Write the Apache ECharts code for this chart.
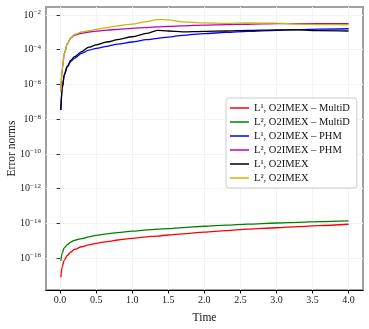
<!DOCTYPE html>
<html>
<head>
<meta charset="utf-8">
<script src="https://cdn.jsdelivr.net/npm/echarts@6/dist/echarts.min.js"></script>
<style>
  html, body { margin: 0; padding: 0; background: #fff; }
  #chart { width: 369px; height: 329px; }
</style>
</head>
<body>
<div id="chart"></div>
<script>
// sample times
var times = [0.01, 0.03, 0.06, 0.1, 0.15, 0.2, 0.3, 0.4, 0.5, 0.65, 0.8, 1.0,
             1.2, 1.35, 1.5, 1.7, 2.0, 2.3, 2.6, 3.0, 3.3, 3.6, 4.0];

var l1MultiD = [7.8e-18, 3.2e-17, 7.9e-17, 1.41e-16, 2.24e-16, 3.16e-16, 4.5e-16, 5.75e-16,
                7.1e-16, 8.9e-16, 1.1e-15, 1.35e-15, 1.66e-15, 1.86e-15, 2.14e-15, 2.5e-15,
                3.16e-15, 3.8e-15, 4.6e-15, 5.6e-15, 6.5e-15, 7.4e-15, 8.9e-15];
var l2MultiD = [6.9e-17, 2.0e-16, 4.0e-16, 6.0e-16, 8.5e-16, 1.05e-15, 1.32e-15, 1.66e-15,
                2.04e-15, 2.5e-15, 2.95e-15, 3.55e-15, 4.2e-15, 4.6e-15, 5.0e-15, 5.75e-15,
                6.8e-15, 7.9e-15, 9.1e-15, 1.05e-14, 1.15e-14, 1.26e-14, 1.38e-14];
var l1Phm = [3.4e-8, 6.3e-7, 3.5e-6, 1.0e-5, 2.1e-5, 3.2e-5, 6.3e-5, 9.5e-5,
             1.2e-4, 1.58e-4, 2.1e-4, 2.8e-4, 3.8e-4, 4.5e-4, 5.4e-4, 6.8e-4,
             8.5e-4, 1.0e-3, 1.15e-3, 1.32e-3, 1.45e-3, 1.55e-3, 1.62e-3];
var l2Phm = [3.7e-7, 7.9e-6, 6.3e-5, 2.2e-4, 4.8e-4, 6.9e-4, 8.9e-4, 1.05e-3,
             1.17e-3, 1.35e-3, 1.5e-3, 1.7e-3, 1.9e-3, 2.1e-3, 2.24e-3, 2.4e-3,
             2.63e-3, 2.8e-3, 2.95e-3, 3.16e-3, 3.16e-3, 3.16e-3, 3.16e-3];
var l1O2 = [3.4e-8, 6.3e-7, 4.0e-6, 1.12e-5, 2.5e-5, 4.0e-5, 7.9e-5, 1.41e-4,
            1.9e-4, 2.8e-4, 3.8e-4, 5.6e-4, 8.7e-4, 1.32e-3, 1.2e-3, 1.07e-3,
            1.15e-3, 1.2e-3, 1.32e-3, 1.41e-3, 1.38e-3, 1.26e-3, 1.2e-3];
var l2O2 = [3.7e-7, 7.9e-6, 6.3e-5, 2.2e-4, 5.0e-4, 7.6e-4, 1.05e-3, 1.26e-3,
            1.48e-3, 1.9e-3, 2.4e-3, 3.0e-3, 4.2e-3, 5.5e-3, 5.25e-3, 4.0e-3,
            3.5e-3, 3.3e-3, 3.5e-3, 3.4e-3, 3.0e-3, 2.8e-3, 2.75e-3];

var xTicks = [0, 0.5, 1.0, 1.5, 2.0, 2.5, 3.0, 3.5, 4.0];
var yTicks = [1e-16, 1e-14, 1e-12, 1e-10, 1e-8, 1e-6, 1e-4, 1e-2];

var names = ['L¹, O2IMEX – MultiD', 'L², O2IMEX – MultiD', 'L¹, O2IMEX – PHM',
             'L², O2IMEX – PHM', 'L¹, O2IMEX', 'L², O2IMEX'];
var colors = ['#ff0000', '#008000', '#0000ff', '#bf00bf', '#000000', '#bfbf00'];
var values = [l1MultiD, l2MultiD, l1Phm, l2Phm, l1O2, l2O2];

var font = '"Liberation Serif", "DejaVu Serif", serif';

function pairs(ys) {
    return times.map(function (t, i) { return [t, ys[i]]; });
}

var series = names.map(function (n, i) {
    return {
        name: n,
        type: 'line',
        data: pairs(values[i]),
        symbol: 'none',
        smooth: 0.3,
        smoothMonotone: 'x',
        lineStyle: { color: colors[i], width: 1.3 },
        itemStyle: { color: colors[i] }
    };
});

var myChart = echarts.init(document.getElementById('chart'));

var option = {
    animation: false,
    backgroundColor: '#ffffff',
    grid: {
        left: 46, right: 6, top: 7, bottom: 39,
        outerBoundsMode: 'none',
        containLabel: false,
        show: true,
        borderColor: '#a0a0a0',
        borderWidth: 2
    },
    legend: {
        orient: 'vertical',
        left: 226, top: 98,
        data: names,
        icon: 'rect',
        itemWidth: 19,
        itemHeight: 1.5,
        itemGap: 2,
        padding: [4, 7, 4, 4],
        borderColor: '#cccccc',
        borderWidth: 1,
        borderRadius: 3,
        backgroundColor: '#ffffff',
        textStyle: { fontFamily: font, fontSize: 10.5, color: '#111', lineHeight: 12 }
    },
    xAxis: {
        type: 'value',
        min: -0.195,
        max: 4.2,
        name: 'Time',
        nameLocation: 'middle',
        nameGap: 22,
        nameMoveOverlap: false,
        nameTextStyle: { fontFamily: font, fontSize: 11.5, color: '#111' },
        axisLine: { show: true, onZero: false, lineStyle: { color: '#000', width: 1.2 } },
        axisTick: { show: true, length: 3.5, customValues: xTicks, lineStyle: { color: '#000' } },
        axisLabel: {
            customValues: xTicks,
            fontFamily: font, fontSize: 10, color: '#222', margin: 5,
            formatter: function (v) { return v.toFixed(1); }
        },
        splitLine: { show: true, lineStyle: { color: '#f3f3f3', width: 1 } }
    },
    yAxis: {
        type: 'log',
        logBase: 10,
        min: 1.45e-18,
        max: 2.9e-2,
        name: 'Error norms',
        nameLocation: 'middle',
        nameGap: 28,
        nameMoveOverlap: false,
        nameTextStyle: { fontFamily: font, fontSize: 11.5, color: '#111' },
        axisLine: { show: false },
        axisTick: { show: true, length: 3.5, customValues: yTicks, lineStyle: { color: '#333' } },
        axisLabel: {
            customValues: yTicks,
            margin: 5,
            formatter: function (v) {
                var e = Math.round(Math.log10(v));
                return '{b|10}{s|−' + Math.abs(e) + '}';
            },
            rich: {
                b: { fontFamily: font, fontSize: 10, color: '#222' },
                s: { fontFamily: font, fontSize: 7, color: '#222', verticalAlign: 'top', padding: [0, 0, 5, 0] }
            }
        },
        splitLine: { show: true, lineStyle: { color: '#f3f3f3', width: 1 } }
    },
    series: series
};

myChart.setOption(option);
</script>
</body>
</html>
